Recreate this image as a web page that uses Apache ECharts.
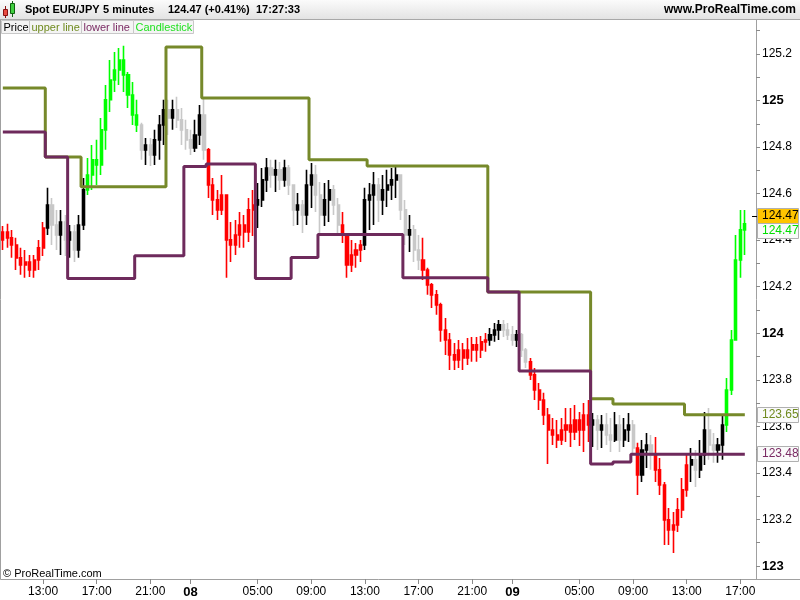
<!DOCTYPE html>
<html><head><meta charset="utf-8">
<script src="https://cdn.jsdelivr.net/npm/echarts@6/dist/echarts.min.js"></script>
<style>html,body{margin:0;padding:0;background:#fff}#c{width:800px;height:600px}</style>
</head><body><div id="c"></div>
<script>
// ---- time slots (20-minute bars, starting 07 10:00) ----
const startDay = 7, startHour = 10, barMinutes = 20, slotCount = 169;
const xLabelHours = [5, 9, 13, 17, 21];

// ---- OHLC values ----
const opens = [124.401,124.435,124.410,124.379,124.324,124.293,124.306,124.272,124.315,124.367,
124.452,124.551,124.465,124.422,124.478,124.401,124.435,124.358,124.465,124.616,
124.680,124.745,124.723,124.874,125.003,125.088,125.131,125.174,125.110,125.024,
124.938,124.895,124.788,124.809,124.766,124.831,124.895,124.960,124.925,124.960,
124.917,124.874,124.831,124.796,124.852,124.938,124.788,124.637,124.573,124.530,
124.594,124.401,124.379,124.422,124.465,124.435,124.530,124.551,124.573,124.659,
124.710,124.680,124.702,124.659,124.710,124.637,124.530,124.551,124.508,124.637,
124.680,124.594,124.508,124.573,124.616,124.551,124.465,124.422,124.293,124.336,
124.358,124.379,124.573,124.594,124.637,124.573,124.616,124.637,124.659,124.680,
124.530,124.422,124.444,124.358,124.315,124.272,124.208,124.165,124.122,124.014,
123.971,123.907,123.885,123.928,123.894,123.928,123.950,123.928,123.963,123.971,
123.993,124.014,124.036,124.014,123.993,123.971,123.993,123.928,123.877,123.821,
123.756,123.713,123.649,123.584,123.563,123.541,123.584,123.606,123.576,123.627,
123.584,123.649,123.606,123.627,123.584,123.606,123.563,123.541,123.606,123.541,
123.584,123.606,123.507,123.391,123.498,123.520,123.477,123.413,123.348,123.198,
123.155,123.176,123.241,123.327,123.434,123.456,123.413,123.477,123.584,123.520,
123.498,123.520,123.606,123.756,123.971,124.315,124.444];
const closes = [124.435,124.410,124.379,124.324,124.293,124.306,124.272,124.315,124.367,124.452,
124.551,124.465,124.422,124.478,124.401,124.435,124.358,124.465,124.616,124.680,
124.745,124.723,124.874,125.003,125.088,125.131,125.174,125.110,125.024,124.938,
124.895,124.788,124.809,124.766,124.831,124.895,124.960,124.925,124.960,124.917,
124.874,124.831,124.796,124.852,124.938,124.788,124.637,124.573,124.530,124.594,
124.401,124.379,124.422,124.465,124.435,124.530,124.551,124.573,124.659,124.710,
124.680,124.702,124.659,124.710,124.637,124.530,124.551,124.508,124.637,124.680,
124.594,124.508,124.573,124.616,124.551,124.465,124.422,124.293,124.336,124.358,
124.379,124.573,124.594,124.637,124.573,124.616,124.637,124.659,124.680,124.530,
124.422,124.444,124.358,124.315,124.272,124.208,124.165,124.122,124.014,123.971,
123.907,123.885,123.928,123.894,123.928,123.950,123.928,123.963,123.971,123.993,
124.014,124.036,124.014,123.993,123.971,123.993,123.928,123.877,123.821,123.756,
123.713,123.649,123.584,123.563,123.541,123.584,123.606,123.576,123.627,123.584,
123.649,123.606,123.627,123.584,123.606,123.563,123.541,123.606,123.541,123.584,
123.606,123.507,123.391,123.498,123.520,123.477,123.413,123.348,123.198,123.155,
123.176,123.241,123.327,123.434,123.456,123.413,123.477,123.584,123.520,123.498,
123.520,123.606,123.756,123.971,124.315,124.444,124.470];
const lows = [124.358,124.367,124.324,124.272,124.251,124.238,124.242,124.238,124.272,124.332,
124.422,124.379,124.358,124.336,124.332,124.324,124.306,124.324,124.444,124.594,
124.616,124.637,124.680,124.788,124.951,125.037,125.067,125.037,124.968,124.895,
124.865,124.745,124.723,124.719,124.723,124.745,124.809,124.852,124.874,124.882,
124.809,124.788,124.766,124.779,124.809,124.745,124.581,124.508,124.487,124.508,
124.238,124.306,124.336,124.367,124.367,124.392,124.418,124.452,124.543,124.607,
124.625,124.607,124.616,124.629,124.594,124.461,124.465,124.431,124.465,124.538,
124.521,124.431,124.461,124.478,124.508,124.422,124.388,124.238,124.263,124.281,
124.306,124.358,124.444,124.465,124.478,124.508,124.543,124.573,124.581,124.487,
124.379,124.349,124.306,124.272,124.229,124.165,124.109,124.079,123.963,123.907,
123.842,123.842,123.851,123.842,123.864,123.877,123.877,123.894,123.920,123.946,
123.963,123.971,123.984,123.971,123.946,123.941,123.898,123.851,123.799,123.713,
123.670,123.606,123.438,123.520,123.507,123.520,123.533,123.511,123.541,123.516,
123.490,123.533,123.511,123.498,123.507,123.520,123.490,123.533,123.490,123.511,
123.533,123.477,123.305,123.361,123.421,123.413,123.361,123.305,123.090,123.090,
123.056,123.146,123.206,123.297,123.361,123.339,123.378,123.434,123.456,123.443,
123.443,123.456,123.576,123.735,123.971,124.238,124.336];
const highs = [124.461,124.470,124.444,124.410,124.367,124.358,124.336,124.336,124.401,124.478,
124.625,124.581,124.530,124.530,124.508,124.465,124.465,124.508,124.667,124.753,
124.809,124.831,124.925,125.067,125.174,125.209,125.226,125.235,125.123,125.080,
125.003,124.904,124.839,124.839,124.874,124.938,125.003,125.003,125.003,125.016,
124.968,124.917,124.874,124.917,124.981,125.011,124.796,124.667,124.616,124.680,
124.594,124.478,124.487,124.521,124.508,124.581,124.616,124.646,124.710,124.753,
124.745,124.745,124.736,124.745,124.723,124.637,124.603,124.573,124.702,124.732,
124.723,124.650,124.646,124.659,124.637,124.581,124.521,124.422,124.401,124.388,
124.401,124.625,124.646,124.693,124.667,124.680,124.702,124.710,124.719,124.680,
124.573,124.508,124.465,124.422,124.410,124.281,124.216,124.186,124.131,124.066,
124.001,123.958,123.971,123.958,123.980,123.984,123.984,123.988,124.001,124.023,
124.044,124.057,124.057,124.044,124.031,124.014,124.001,123.937,123.894,123.851,
123.786,123.744,123.679,123.636,123.627,123.636,123.679,123.679,123.692,123.662,
123.700,123.713,123.657,123.649,123.649,123.657,123.636,123.662,123.649,123.636,
123.657,123.627,123.529,123.541,123.571,123.563,123.554,123.464,123.361,123.249,
123.232,123.292,123.378,123.477,123.507,123.498,123.541,123.662,123.679,123.571,
123.550,123.649,123.808,124.014,124.422,124.530,124.530];

// indicator state per bar, as runs: [state, number of bars]
const signalRuns = [['bear',10],['flat',9],['bull',12],['flat',15],['bear',11],['flat',19],['bear',5],
['flat',13],['bear',15],['flat',9],['bear',14],['flat',10],['bear',1],['flat',3],['bear',8],['flat',8],['bull',5]];
// step lines as runs: [value, number of bars]
const upperRuns = [[125.054,10],[124.757,8],[124.629,19],[125.230,8],[125.011,24],[124.745,13],
[124.719,27],[124.177,23],[123.718,5],[123.696,16],[123.650,14]];
const lowerRuns = [[124.865,10],[124.757,5],[124.235,15],[124.333,11],[124.716,5],[124.727,11],
[124.235,8],[124.325,6],[124.424,19],[124.238,19],[124.177,7],[123.838,16],[123.438,5],[123.447,4],[123.480,26]];

const yLabelValues = [123, 123.2, 123.4, 123.6, 123.8, 124, 124.2, 124.4, 124.6, 124.8, 125, 125.2];
const yTickValues = [123, 123.1, 123.2, 123.3, 123.4, 123.5, 123.6, 123.7, 123.8, 123.9, 124, 124.1, 124.2,
124.3, 124.4, 124.5, 124.6, 124.7, 124.8, 124.9, 125, 125.1, 125.2, 125.3];
const yAxisMin = 122.944, yAxisMax = 125.346;
const headerTitle = 'Spot EUR/JPY', headerPeriod = '5 minutes', headerChange = '(+0.41%)', headerTime = '17:27:33';

// ---- build ----
const pad = n => (n < 10 ? '0' : '') + n;
const categories = [];
for (let i = 0; i < slotCount; i++) {
  const m = startHour * 60 + i * barMinutes;
  const d = startDay + Math.floor(m / 1440);
  const mm = m % 1440;
  categories.push(pad(d) + '|' + pad(Math.floor(mm / 60)) + ':' + pad(mm % 60));
}
const expand = runs => { const out = []; runs.forEach(([v, n]) => { for (let k = 0; k < n; k++) out.push(v); }); return out; };
const signals = expand(signalRuns);
const upperData = expand(upperRuns);
const lowerData = expand(lowerRuns);

const COL = { bull: '#00ff00', bear: '#ff0000', up: '#000000', down: '#c8c8c8' };
const candleData = opens.map((o, i) => {
  const c = closes[i];
  const s = signals[i];
  const col = s === 'bull' ? COL.bull : s === 'bear' ? COL.bear : (c >= o ? COL.up : COL.down);
  return { value: [o, c, lows[i], highs[i]], itemStyle: { color: col, color0: col, borderColor: col, borderColor0: col, borderWidth: 1.6 } };
});

const showLabel = (idx, val) => {
  const t = val.split('|')[1];
  const h = +t.slice(0, 2), m = +t.slice(3);
  return m === 0 && (h === 0 || xLabelHours.indexOf(h) >= 0);
};

const FONT = '"Liberation Sans", Arial, sans-serif';
const chart = echarts.init(document.getElementById('c'), null, { renderer: 'canvas' });
chart.setOption({
  animation: false,
  backgroundColor: '#ffffff',
  textStyle: { fontFamily: FONT },
  grid: { left: 0.6, right: 44, top: 20, bottom: 21 },
  xAxis: {
    type: 'category', data: categories, boundaryGap: true,
    axisLine: { show: true, lineStyle: { color: '#a0a0a0', width: 1 } },
    axisTick: { show: true, alignWithLabel: true, interval: showLabel, length: 5, lineStyle: { color: '#8a8a8a' } },
    axisLabel: {
      interval: showLabel, margin: 7, color: '#000', fontSize: 12, fontFamily: FONT,
      formatter: v => { const [d, t] = v.split('|'); return t === '00:00' ? '{d|' + d + '}' : t; },
      rich: { d: { fontWeight: 'bold', fontSize: 13, color: '#000', fontFamily: FONT } }
    },
    splitLine: { show: false }
  },
  yAxis: {
    type: 'value', position: 'right', min: yAxisMin, max: yAxisMax,
    axisLine: { show: true, lineStyle: { color: '#a0a0a0', width: 1 } },
    axisTick: { show: true, length: 4, customValues: yTickValues, lineStyle: { color: '#8a8a8a' } },
    axisLabel: {
      customValues: yLabelValues, margin: 6, color: '#000', fontSize: 12, fontFamily: FONT,
      formatter: v => { const r = Math.round(v * 10) / 10; return Number.isInteger(r) ? '{b|' + r + '}' : String(r); },
      rich: { b: { fontWeight: 'bold', fontSize: 13, color: '#000', fontFamily: FONT } }
    },
    splitLine: { show: false }
  },
  series: [
    { name: 'Candlestick', type: 'candlestick', data: candleData, barWidth: 2.6, z: 2, silent: true },
    { name: 'upper line', type: 'line', step: 'middle', data: upperData, symbol: 'none', z: 3, silent: true,
      lineStyle: { color: '#76892a', width: 3 } },
    { name: 'lower line', type: 'line', step: 'middle', data: lowerData, symbol: 'none', z: 3, silent: true,
      lineStyle: { color: '#6e2a5c', width: 3 } }
  ]
});

// ---- overlays: header, legend, price boxes ----
const lastClose = closes[closes.length - 1];
const lastUpper = upperData[upperData.length - 1];
const lastLower = lowerData[lowerData.length - 1];
const py = v => chart.convertToPixel({ yAxisIndex: 0 }, v);

function box(x, y, w, h, fill, stroke) {
  return { type: 'rect', z: 100, shape: { x: x, y: y, width: w, height: h }, style: { fill: fill, stroke: stroke, lineWidth: 1 } };
}
function txt(x, y, s, font, fill, align) {
  return { type: 'text', z: 101, x: x, y: y, style: { text: s, font: font, fill: fill, align: align || 'left', verticalAlign: 'middle' } };
}
const g = [];
g.push({ type: 'rect', z: 99, shape: { x: 0, y: 0, width: 800, height: 20 },
  style: { fill: new echarts.graphic.LinearGradient(0, 0, 0, 1, [{ offset: 0, color: '#fbfbfb' }, { offset: 1, color: '#e2e2e2' }]) } });
g.push({ type: 'line', z: 100, shape: { x1: 0, y1: 19.5, x2: 800, y2: 19.5 }, style: { stroke: '#a8a8a8', lineWidth: 1 } });
// icon
g.push({ type: 'line', z: 100, shape: { x1: 5.5, y1: 6, x2: 5.5, y2: 18 }, style: { stroke: '#8a1010', lineWidth: 1 } });
g.push(box(3.5, 9.5, 4, 6, '#e84a40', '#8a1010'));
g.push({ type: 'line', z: 100, shape: { x1: 12.5, y1: 1, x2: 12.5, y2: 17 }, style: { stroke: '#106010', lineWidth: 1 } });
g.push(box(10.5, 3.5, 4, 10, '#40d040', '#106010'));
const HF = 'bold 11px ' + FONT;
g.push(txt(25, 10, headerTitle, HF, '#000'));
g.push(txt(103, 10, headerPeriod, HF, '#000'));
g.push(txt(168, 10, lastClose.toFixed(2) + ' ' + headerChange, HF, '#000'));
g.push(txt(256, 10, headerTime, HF, '#000'));
g.push(txt(796, 10, 'www.ProRealTime.com', 'bold 12px ' + FONT, '#000', 'right'));
// legend row
const LF = '11px ' + FONT;
const legend = [['Price', 1, 28, '#000000'], ['upper line', 29, 52, '#6f8a1e'], ['lower line', 81, 52, '#7a2a63'], ['Candlestick', 133, 60, '#22e022']];
legend.forEach(([s, x, w, c]) => { g.push(box(x + 0.5, 20.5, w, 13, '#f4f4f4', '#c8c8c8')); g.push(txt(x + 2.5, 27.5, s, LF, c)); });
// footer
g.push(txt(3, 574, '\u00A9 ProRealTime.com', '11px ' + FONT, '#000'));
// frame lines
g.push({ type: 'line', z: 100, shape: { x1: 0.5, y1: 20, x2: 0.5, y2: 579 }, style: { stroke: '#a0a0a0', lineWidth: 1 } });
g.push({ type: 'line', z: 100, shape: { x1: 755, y1: 579.5, x2: 800, y2: 579.5 }, style: { stroke: '#a0a0a0', lineWidth: 1 } });
// price boxes
const yc = py(lastClose);
g.push(box(757.5, Math.round(yc) - 15.5, 41, 15, '#ffc400', '#b0b0b0'));
g.push(txt(762, Math.round(yc) - 8, lastClose.toFixed(2), '12px ' + FONT, '#000'));
g.push(box(757.5, Math.round(yc) - 0.5, 41, 15, '#fafafa', '#b0b0b0'));
g.push(txt(762, Math.round(yc) + 7, lastClose.toFixed(2), '12px ' + FONT, '#00e000'));
g.push({ type: 'line', z: 100, shape: { x1: 752, y1: Math.round(yc) - 7.5, x2: 757, y2: Math.round(yc) - 7.5 }, style: { stroke: '#000', lineWidth: 1 } });
const yu = py(lastUpper);
g.push(box(757.5, Math.round(yu) - 7.5, 41, 15, '#fafafa', '#b0b0b0'));
g.push(txt(762, Math.round(yu), lastUpper.toFixed(2), '12px ' + FONT, '#6f8a1e'));
const yl = py(lastLower);
g.push(box(757.5, Math.round(yl) - 7.5, 41, 15, '#fafafa', '#b0b0b0'));
g.push(txt(762, Math.round(yl), lastLower.toFixed(2), '12px ' + FONT, '#7a2a63'));
chart.setOption({ graphic: g });
</script>
</body></html>
